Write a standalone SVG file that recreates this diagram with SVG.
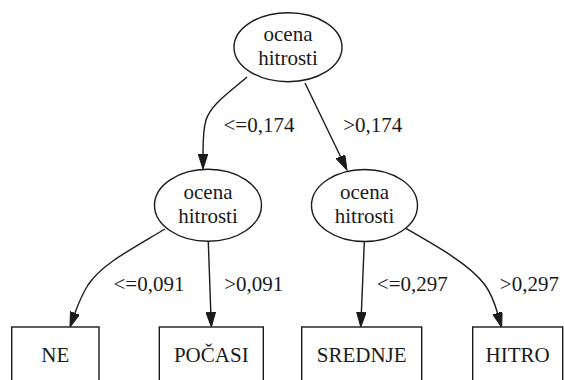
<svg xmlns="http://www.w3.org/2000/svg" width="564" height="380" viewBox="0 0 564 380">
  <style>
    .node ellipse, .node rect { fill: #ffffff; stroke: #1a1a1a; stroke-width: 1.4; }
    .edge { fill: none; stroke: #1a1a1a; stroke-width: 1.4; marker-end: url(#arrow); }
  </style>
  <defs>
    <marker id="arrow" markerUnits="userSpaceOnUse" markerWidth="16" markerHeight="10" refX="0" refY="4.8" orient="auto">
      <path d="M0,0 L15,4.8 L0,9.6 Z" fill="#1a1a1a" stroke="#1a1a1a" stroke-width="1"/>
    </marker>
  </defs>

  <rect x="0" y="0" width="564" height="380" fill="#ffffff"/>

  <!-- connectors -->
  <g id="edges">
    <path class="edge" d="M247,77 C230,92 211,104 206,120 C203,130 203,142 203,154"/>
    <path class="edge" d="M305,83 L340.5,156.5"/>
    <path class="edge" d="M165,229 C130,250 102,264 88,285 C83,293 80,299 75,313"/>
    <path class="edge" d="M208.3,242 L210.8,312"/>
    <path class="edge" d="M364.3,242 L361.4,312"/>
    <path class="edge" d="M405,228 C440,248 470,265 485,285 C490,292 494,301 497.5,313"/>

    <text x="223.5" y="131.7" font-family="Liberation Serif" font-size="21" fill="#1a1a1a">&lt;=0,174</text>
    <text x="343.2" y="131.7" font-family="Liberation Serif" font-size="21" fill="#1a1a1a">&gt;0,174</text>
    <text x="113.5" y="290.7" font-family="Liberation Serif" font-size="21" fill="#1a1a1a">&lt;=0,091</text>
    <text x="224.2" y="290.7" font-family="Liberation Serif" font-size="21" fill="#1a1a1a">&gt;0,091</text>
    <text x="376.8" y="290.7" font-family="Liberation Serif" font-size="21" fill="#1a1a1a">&lt;=0,297</text>
    <text x="499.8" y="290.7" font-family="Liberation Serif" font-size="21" fill="#1a1a1a">&gt;0,297</text>
  </g>

  <!-- decision nodes -->
  <g id="root" class="node">
    <ellipse cx="288" cy="47.2" rx="54" ry="34.5"/>
    <text x="288" y="41.2" text-anchor="middle" font-family="Liberation Serif" font-size="21" fill="#1a1a1a">ocena</text>
    <text x="288" y="65.2" text-anchor="middle" font-family="Liberation Serif" font-size="21" fill="#1a1a1a">hitrosti</text>
  </g>
  <g id="split-left" class="node">
    <ellipse cx="208" cy="205.3" rx="53.5" ry="36"/>
    <text x="208" y="199.3" text-anchor="middle" font-family="Liberation Serif" font-size="21" fill="#1a1a1a">ocena</text>
    <text x="208" y="223.3" text-anchor="middle" font-family="Liberation Serif" font-size="21" fill="#1a1a1a">hitrosti</text>
  </g>
  <g id="split-right" class="node">
    <ellipse cx="364.5" cy="205.5" rx="53" ry="36"/>
    <text x="364.5" y="199.3" text-anchor="middle" font-family="Liberation Serif" font-size="21" fill="#1a1a1a">ocena</text>
    <text x="364.5" y="223.3" text-anchor="middle" font-family="Liberation Serif" font-size="21" fill="#1a1a1a">hitrosti</text>
  </g>

  <!-- leaf nodes -->
  <g id="leaf-ne" class="node">
    <rect x="11.7" y="327" width="87.3" height="58"/>
    <text x="55.3" y="361.7" text-anchor="middle" font-family="Liberation Serif" font-size="21" fill="#1a1a1a">NE</text>
  </g>
  <g id="leaf-pocasi" class="node">
    <rect x="159.3" y="327" width="104" height="58"/>
    <text x="211.3" y="361.7" text-anchor="middle" font-family="Liberation Serif" font-size="21" fill="#1a1a1a">POČASI</text>
  </g>
  <g id="leaf-srednje" class="node">
    <rect x="301.7" y="327" width="120" height="58"/>
    <text x="361.7" y="361.7" text-anchor="middle" font-family="Liberation Serif" font-size="21" fill="#1a1a1a">SREDNJE</text>
  </g>
  <g id="leaf-hitro" class="node">
    <rect x="472.7" y="327" width="90" height="58"/>
    <text x="517.7" y="361.7" text-anchor="middle" font-family="Liberation Serif" font-size="21" fill="#1a1a1a">HITRO</text>
  </g>
</svg>
